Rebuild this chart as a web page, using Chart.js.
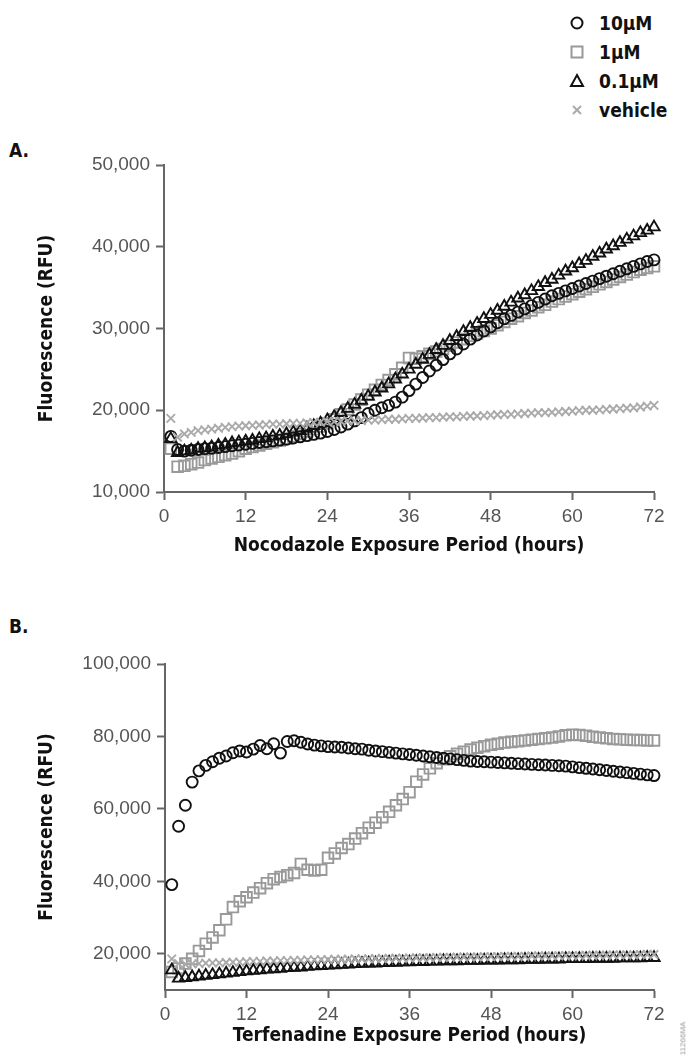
<!DOCTYPE html>
<html lang="en">
<head>
<meta charset="UTF-8">
<title>Fluorescence vs exposure period</title>
<script src="https://cdn.jsdelivr.net/npm/chart.js"></script>
<style>
  body { margin: 0; background: #fff; }
  #page { position: relative; width: 693px; height: 1063px; overflow: hidden; font-family: 'DejaVu Sans Condensed', 'Liberation Sans Narrow', Arial, sans-serif; }
  canvas { position: absolute; left: 0; }
  .panel { position: absolute; left: 9px; font-weight: bold; font-size: 19px; color: #111; line-height: 1; }
  .legend { position: absolute; left: 567px; top: 8px; }
  .legend div { height: 29px; display: flex; align-items: center; font-weight: bold; font-size: 19px; color: #111; }
  .legend svg { width: 20px; height: 20px; margin-right: 12px; }
  .code { position: absolute; left: 666px; top: 1034px; transform: rotate(-90deg); font-size: 8px; color: #999; font-family: Arial, sans-serif; }
</style>
</head>
<body>
<div id="page">
  <div class="legend">
    <div><svg viewBox="0 0 20 20"><circle cx="10" cy="10" r="5.5" fill="none" stroke="#111" stroke-width="2"/></svg>10µM</div>
    <div><svg viewBox="0 0 20 20"><rect x="4.5" y="4.5" width="11" height="11" fill="none" stroke="#999" stroke-width="2"/></svg>1µM</div>
    <div><svg viewBox="0 0 20 20"><path d="M10 4 L16 15 L4 15 Z" fill="none" stroke="#111" stroke-width="2"/></svg>0.1µM</div>
    <div><svg viewBox="0 0 20 20"><path d="M6 6 L14 14 M14 6 L6 14" stroke="#aaa" stroke-width="2"/></svg>vehicle</div>
  </div>
  <div class="panel" style="top:141px">A.</div>
  <div class="panel" style="top:617px">B.</div>
  <canvas id="chartA" width="693" height="440" style="top:130px"></canvas>
  <canvas id="chartB" width="693" height="433" style="top:630px"></canvas>
  <div class="code">11266MA</div>
</div>
<script>
  // sampling times (hours)
  const hours = [1,2,3,4,5,6,7,8,9,10,11,12,13,14,15,16,17,18,19,20,21,22,23,24,
                 25,26,27,28,29,30,31,32,33,34,35,36,37,38,39,40,41,42,43,44,45,46,47,48,
                 49,50,51,52,53,54,55,56,57,58,59,60,61,62,63,64,65,66,67,68,69,70,71,72];
  const hourTicks = [0, 12, 24, 36, 48, 60, 72];
  const nocoTicks = [10000, 20000, 30000, 40000, 50000];
  const terfTicks = [20000, 40000, 60000, 80000, 100000];
  const seriesNames = ['10µM', '1µM', '0.1µM', 'vehicle'];

  // A. Nocodazole
  const noco10 = [16800,15200,15000,15100,15200,15300,15350,15450,15550,15650,15750,15850,
                  15950,16050,16150,16250,16350,16450,16600,16750,16900,17050,17200,17400,
                  17650,17950,18300,18700,19100,19600,20000,20300,20600,21000,21600,22400,
                  23200,24000,24800,25500,26200,26900,27500,28100,28700,29200,29700,30200,
                  30700,31200,31600,32000,32400,32800,33200,33600,34000,34300,34600,34900,
                  35200,35500,35800,36100,36400,36700,37000,37300,37600,37900,38200,38400];
  const noco1 = [15300,13100,13200,13400,13600,13900,14100,14300,14500,14700,15000,15300,
                 15500,15700,15900,16100,16300,16500,16800,17100,17400,17700,18000,18400,
                 18900,19500,20100,20700,21300,21900,22500,23100,23700,24400,25200,26400,
                 26300,26600,26900,27200,27500,27900,28300,28700,29100,29400,29700,30000,
                 30400,30800,31200,31500,31900,32200,32600,32900,33300,33600,33900,34200,
                 34500,34800,35100,35400,35700,36000,36300,36600,36900,37200,37400,37600];
  const noco01 = [16500,14800,15000,15100,15300,15400,15500,15700,15800,16000,16100,16200,
                  16300,16500,16600,16800,16900,17100,17300,17500,17800,18100,18400,18800,
                  19200,19700,20200,20700,21200,21700,22200,22700,23200,23800,24400,25000,
                  25600,26200,26800,27400,27900,28500,29000,29600,30100,30600,31200,31700,
                  32200,32700,33200,33700,34100,34600,35100,35600,36000,36500,37000,37400,
                  37900,38300,38800,39200,39700,40100,40500,40900,41300,41700,42000,42400];
  const nocoVeh = [19000,16700,17100,17300,17500,17600,17700,17800,17900,18000,18050,18100,
                   18150,18200,18250,18300,18300,18350,18400,18400,18450,18500,18550,18600,
                   18600,18650,18700,18700,18750,18800,18800,18850,18900,18900,18950,19000,
                   19000,19050,19100,19100,19150,19200,19200,19250,19300,19300,19350,19400,
                   19450,19500,19500,19550,19600,19650,19700,19700,19750,19800,19850,19900,
                   19950,20000,20000,20050,20100,20150,20200,20250,20300,20400,20500,20600];

  // B. Terfenadine
  const terf10 = [39100,55200,61000,67400,70500,72000,73000,74000,74600,75500,76000,75700,
                  76500,77500,76600,78000,75400,78600,78800,78400,77900,77600,77400,77200,
                  77100,77000,76800,76600,76500,76200,76000,75800,75600,75400,75200,75000,
                  74800,74600,74400,74200,74000,73800,73600,73400,73200,73100,73000,72900,
                  72800,72700,72600,72500,72400,72300,72200,72100,72000,71900,71800,71600,
                  71400,71200,71000,70800,70600,70400,70200,70000,69800,69600,69400,69200];
  const terf1 = [15000,16000,17300,18600,20800,22800,24500,26500,29500,32900,34500,35600,
                 36900,38100,39500,40600,41200,41700,42300,44800,43200,43000,43200,46500,
                 47700,49200,50300,51800,53300,54800,56200,57700,59200,61000,62700,64600,
                 67500,69500,71200,72600,73700,74500,75200,75800,76400,76900,77300,77700,
                 78000,78300,78500,78700,78900,79100,79300,79500,79700,80000,80300,80500,
                 80400,80200,79900,79700,79500,79300,79200,79100,79000,79000,78900,78900];
  const terf01 = [15500,13200,13400,13600,13800,14000,14200,14400,14600,14800,15000,15200,
                  15400,15500,15700,15800,15900,16100,16200,16300,16500,16600,16700,16800,
                  16900,17000,17100,17200,17300,17400,17400,17500,17600,17600,17700,17700,
                  17800,17800,17900,17900,18000,18000,18000,18100,18100,18100,18200,18200,
                  18200,18300,18300,18300,18400,18400,18400,18500,18500,18500,18600,18600,
                  18600,18600,18700,18700,18700,18700,18800,18800,18800,18800,18900,18900];
  const terfVeh = [18600,17300,17100,17200,17300,17400,17500,17500,17600,17700,17700,17800,
                   17900,17900,18000,18000,18100,18100,18200,18200,18300,18300,18400,18400,
                   18500,18500,18500,18600,18600,18600,18700,18700,18700,18800,18800,18800,
                   18900,18900,18900,19000,19000,19000,19100,19100,19100,19100,19200,19200,
                   19200,19300,19300,19300,19300,19400,19400,19400,19400,19500,19500,19500,
                   19500,19600,19600,19600,19600,19700,19700,19700,19700,19800,19800,19800];

  Chart.defaults.font.family = "'Liberation Sans', Arial, sans-serif";
  Chart.defaults.color = '#555';

  const markerStyles = [
    { pointStyle: 'circle',   pointRadius: 5.5, borderColor: '#111', order: 1 },
    { pointStyle: 'rect',     pointRadius: 7.5, borderColor: '#999', order: 3 },
    { pointStyle: 'triangle', pointRadius: 6.5, borderColor: '#111', order: 2 },
    { pointStyle: 'crossRot', pointRadius: 6,   borderColor: '#aaa', order: 0 }
  ];
  const titleFont = { family: "'DejaVu Sans Condensed', 'Liberation Sans Narrow', Arial, sans-serif", size: 19, weight: 'bold' };

  function points(values) {
    return hours.map((h, i) => ({ x: h, y: values[i] }));
  }

  function makeChart(id, seriesData, yMin, yMax, yTicks, xTitle, geo) {
    const datasets = seriesData.map((vals, i) => Object.assign({
      label: seriesNames[i],
      data: points(vals),
      backgroundColor: 'rgba(0,0,0,0)',
      pointBorderWidth: 1.9,
      showLine: false,
      clip: false
    }, markerStyles[i], { pointBorderColor: markerStyles[i].borderColor }));

    new Chart(document.getElementById(id), {
      type: 'scatter',
      data: { datasets: datasets },
      options: {
        responsive: false,
        animation: false,
        devicePixelRatio: 1,
        layout: { padding: { top: geo.top, right: 39, bottom: 0, left: 0 } },
        plugins: { legend: { display: false }, tooltip: { enabled: false } },
        scales: {
          x: {
            type: 'linear',
            min: 0,
            max: 72,
            afterBuildTicks: s => { s.ticks = hourTicks.map(v => ({ value: v })); },
            afterFit: s => { s.height = geo.xHeight; },
            ticks: { font: { size: 19 }, color: '#555', padding: 5 },
            grid: { drawOnChartArea: false, tickLength: 8, tickColor: '#666', tickWidth: 2 },
            border: { display: true, color: '#666', width: 2 },
            title: { display: true, text: xTitle, color: '#111', font: titleFont,
                     padding: { top: 0, bottom: geo.xTitlePad } }
          },
          y: {
            min: yMin,
            max: yMax,
            afterBuildTicks: s => { s.ticks = yTicks.map(v => ({ value: v })); },
            afterFit: s => { s.width = geo.yWidth; },
            ticks: { font: { size: 19 }, color: '#555', padding: 6,
                     callback: v => v.toLocaleString('en-US') },
            grid: { drawOnChartArea: false, tickLength: 8, tickColor: '#666', tickWidth: 2 },
            border: { display: true, color: '#666', width: 2 },
            title: { display: true, text: 'Fluorescence (RFU)', color: '#111', font: titleFont,
                     padding: { top: 36, bottom: 0 } }
          }
        }
      }
    });
  }

  makeChart('chartA', [noco10, noco1, noco01, nocoVeh], 10000, 50000, nocoTicks,
            'Nocodazole Exposure Period (hours)',
            { top: 35, xHeight: 78, xTitlePad: 12.6, yWidth: 164 });
  makeChart('chartB', [terf10, terf1, terf01, terfVeh], 10000, 100000, terfTicks,
            'Terfenadine Exposure Period (hours)',
            { top: 34, xHeight: 73, xTitlePad: 15.6, yWidth: 165 });
</script>
</body>
</html>
